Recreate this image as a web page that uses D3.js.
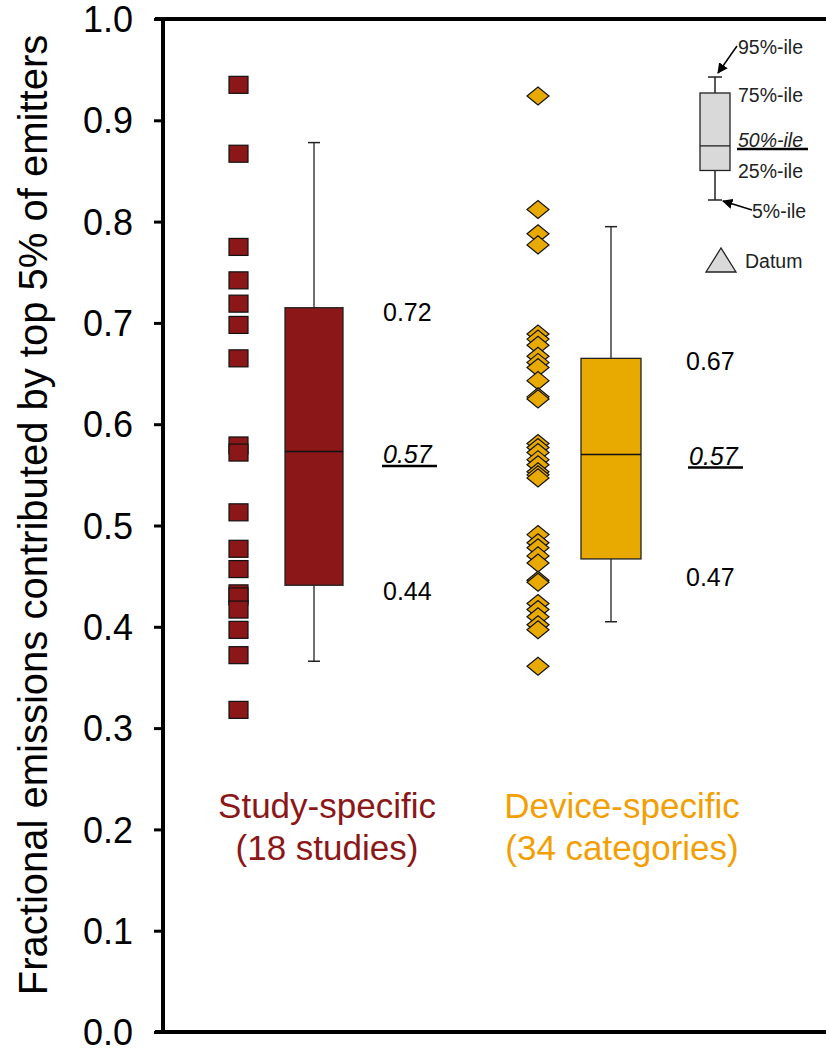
<!DOCTYPE html>
<html>
<head>
<meta charset="utf-8">
<script src="https://cdn.jsdelivr.net/npm/d3@7"></script>
<style>
  body { margin: 0; background: #fff; }
  svg { font-family: "Liberation Sans", Arial, sans-serif; }
</style>
</head>
<body>
<div id="chart"></div>
<script>
// values
var studyValues = [0.935, 0.867, 0.775, 0.742, 0.719, 0.698, 0.665, 0.579, 0.572, 0.513,
                   0.477, 0.457, 0.433, 0.430, 0.417, 0.397, 0.372, 0.318];
var deviceValues = [0.924, 0.812, 0.788, 0.777, 0.689, 0.684, 0.678, 0.667, 0.661, 0.656,
                    0.643, 0.627, 0.625, 0.581, 0.577, 0.572, 0.565, 0.560, 0.553, 0.550,
                    0.547, 0.491, 0.483, 0.478, 0.470, 0.463, 0.446, 0.444, 0.423, 0.417,
                    0.410, 0.402, 0.397, 0.361];
// box stats: p5, p25, p50, p75, p95
var studyBox = [0.366, 0.441, 0.573, 0.715, 0.878];
var deviceBox = [0.405, 0.467, 0.570, 0.665, 0.795];
var boxLabels = [["0.72", "0.57", "0.44"], ["0.67", "0.57", "0.47"]];
var groupNames = [["Study-specific", "(18 studies)"], ["Device-specific", "(34 categories)"]];
var yTicks = [0, 0.1, 0.2, 0.3, 0.4, 0.5, 0.6, 0.7, 0.8, 0.9, 1.0];
var legendNames = ["95%-ile", "75%-ile", "50%-ile", "25%-ile", "5%-ile"];

var width = 826, height = 1053;
var red = "#8B1718", gold = "#E8A900", goldText = "#F29F05";

var svg = d3.select("#chart").append("svg")
    .attr("width", width)
    .attr("height", height);

var y = d3.scaleLinear().domain([0, 1]).range([1032, 19]);

// axes
var yAxis = d3.axisLeft(y).tickValues(yTicks).tickSize(9).tickFormat(d3.format(".1f"));
var gy = svg.append("g")
    .attr("transform", "translate(163,0)")
    .call(yAxis);
gy.select(".domain").remove();
gy.selectAll(".tick line").attr("stroke", "#000").attr("stroke-width", 3);
gy.selectAll(".tick text")
    .attr("x", -30)
    .attr("dy", "0.35em")
    .attr("font-size", 36)
    .attr("fill", "#000")
    .attr("font-family", "Liberation Sans, Arial, sans-serif");

svg.append("path")
    .attr("d", "M163," + y(0) + "V" + y(1))
    .attr("stroke", "#000").attr("stroke-width", 4).attr("fill", "none");
svg.append("line").attr("x1", 155).attr("x2", width).attr("y1", y(1)).attr("y2", y(1))
    .attr("stroke", "#000").attr("stroke-width", 4);
svg.append("line").attr("x1", 155).attr("x2", width).attr("y1", y(0)).attr("y2", y(0))
    .attr("stroke", "#000").attr("stroke-width", 4);

svg.append("text")
    .attr("transform", "translate(47,515) rotate(-90)")
    .attr("text-anchor", "middle")
    .attr("font-size", 40)
    .text("Fractional emissions contributed by top 5% of emitters");

// data points
svg.selectAll("rect.study")
    .data(studyValues)
  .enter().append("rect")
    .attr("class", "study")
    .attr("x", 229).attr("width", 19)
    .attr("y", function(d) { return y(d) - 8.5; })
    .attr("height", 17)
    .attr("fill", red)
    .attr("stroke", "#111").attr("stroke-width", 1.2);

svg.selectAll("path.device")
    .data(deviceValues)
  .enter().append("path")
    .attr("class", "device")
    .attr("d", function(d) {
      var cx = 538, cy = y(d);
      return "M" + (cx - 11) + "," + cy + "L" + cx + "," + (cy - 9) + "L" + (cx + 11) + "," + cy + "L" + cx + "," + (cy + 9) + "Z";
    })
    .attr("fill", gold)
    .attr("stroke", "#111").attr("stroke-width", 1.2);

// box plots
function drawBox(stats, cx, w, fill, labels, lx, offs) {
  var g = svg.append("g");
  g.append("line").attr("x1", cx).attr("x2", cx).attr("y1", y(stats[4])).attr("y2", y(stats[3]))
    .attr("stroke", "#222").attr("stroke-width", 1.3);
  g.append("line").attr("x1", cx).attr("x2", cx).attr("y1", y(stats[1])).attr("y2", y(stats[0]))
    .attr("stroke", "#222").attr("stroke-width", 1.3);
  [stats[0], stats[4]].forEach(function(v) {
    g.append("line").attr("x1", cx - 6).attr("x2", cx + 6).attr("y1", y(v)).attr("y2", y(v))
      .attr("stroke", "#222").attr("stroke-width", 1.5);
  });
  g.append("rect").attr("x", cx - w / 2).attr("width", w)
    .attr("y", y(stats[3])).attr("height", y(stats[1]) - y(stats[3]))
    .attr("fill", fill).attr("stroke", "#222").attr("stroke-width", 1.3);
  g.append("line").attr("x1", cx - w / 2).attr("x2", cx + w / 2).attr("y1", y(stats[2])).attr("y2", y(stats[2]))
    .attr("stroke", "#111").attr("stroke-width", 1.5);

  g.append("text").attr("x", lx).attr("y", y(stats[3]) + offs[0]).attr("font-size", 25).text(labels[0]);
  g.append("text").attr("x", lx + offs[3]).attr("y", y(stats[2]) + offs[1]).attr("font-size", 25)
    .attr("font-style", "italic").text(labels[1]);
  g.append("line").attr("x1", lx + offs[3] - 1).attr("x2", lx + offs[3] + 54)
    .attr("y1", y(stats[2]) + offs[1] + 3).attr("y2", y(stats[2]) + offs[1] + 3)
    .attr("stroke", "#000").attr("stroke-width", 2.5);
  g.append("text").attr("x", lx).attr("y", y(stats[1]) + offs[2]).attr("font-size", 25).text(labels[2]);
}
drawBox(studyBox, 314, 58, red, boxLabels[0], 383, [13, 11.5, 15, 0]);
drawBox(deviceBox, 611, 60, gold, boxLabels[1], 686, [12, 10, 27, 3]);

// group labels
var groupX = [327, 622], groupColor = [red, goldText];
groupNames.forEach(function(lines, i) {
  lines.forEach(function(t, j) {
    svg.append("text")
      .attr("x", groupX[i]).attr("y", 818 + j * 42)
      .attr("text-anchor", "middle")
      .attr("font-size", 35)
      .attr("fill", groupColor[i])
      .text(t);
  });
});

// legend
var lg = svg.append("g");
var ly = d3.scaleLinear().domain([0, 1]).range([200, 77]);
var lstats = [0, 0.24, 0.44, 0.87, 1];
var lcx = 715;
lg.append("line").attr("x1", lcx).attr("x2", lcx).attr("y1", ly(1)).attr("y2", ly(0))
  .attr("stroke", "#222").attr("stroke-width", 1.5);
[0, 1].forEach(function(v) {
  lg.append("line").attr("x1", lcx - 7).attr("x2", lcx + 7).attr("y1", ly(v)).attr("y2", ly(v))
    .attr("stroke", "#222").attr("stroke-width", 1.5);
});
lg.append("rect").attr("x", 700).attr("width", 30).attr("y", ly(lstats[3]))
  .attr("height", ly(lstats[1]) - ly(lstats[3]))
  .attr("fill", "#d9d9d9").attr("stroke", "#222").attr("stroke-width", 1.3);
lg.append("line").attr("x1", 700).attr("x2", 730).attr("y1", ly(lstats[2])).attr("y2", ly(lstats[2]))
  .attr("stroke", "#222").attr("stroke-width", 1.3);

var legendPos = [[738, 54], [738, 102], [738, 147], [738, 178], [752, 218]];
legendNames.forEach(function(t, i) {
  lg.append("text").attr("x", legendPos[i][0]).attr("y", legendPos[i][1])
    .attr("font-size", 19.5)
    .attr("font-style", i === 2 ? "italic" : "normal")
    .attr("fill", "#222")
    .text(t);
});
lg.append("line").attr("x1", 737).attr("x2", 808).attr("y1", 149).attr("y2", 149)
  .attr("stroke", "#000").attr("stroke-width", 2.5);

svg.append("defs").append("marker")
  .attr("id", "arr").attr("viewBox", "0 0 10 10").attr("refX", 9).attr("refY", 5)
  .attr("markerWidth", 7).attr("markerHeight", 7).attr("orient", "auto")
  .append("path").attr("d", "M0,0L10,5L0,10Z").attr("fill", "#000");
lg.append("line").attr("x1", 737).attr("x2", 718).attr("y1", 46).attr("y2", 73)
  .attr("stroke", "#000").attr("stroke-width", 1.5).attr("marker-end", "url(#arr)");
lg.append("line").attr("x1", 752).attr("x2", 723).attr("y1", 210).attr("y2", 201)
  .attr("stroke", "#000").attr("stroke-width", 1.5).attr("marker-end", "url(#arr)");

lg.append("path").attr("d", "M706,272L721,248L736,272Z")
  .attr("fill", "#d9d9d9").attr("stroke", "#222").attr("stroke-width", 1.3);
lg.append("text").attr("x", 745).attr("y", 268).attr("font-size", 19.5).attr("fill", "#222").text("Datum");
</script>
</body>
</html>
